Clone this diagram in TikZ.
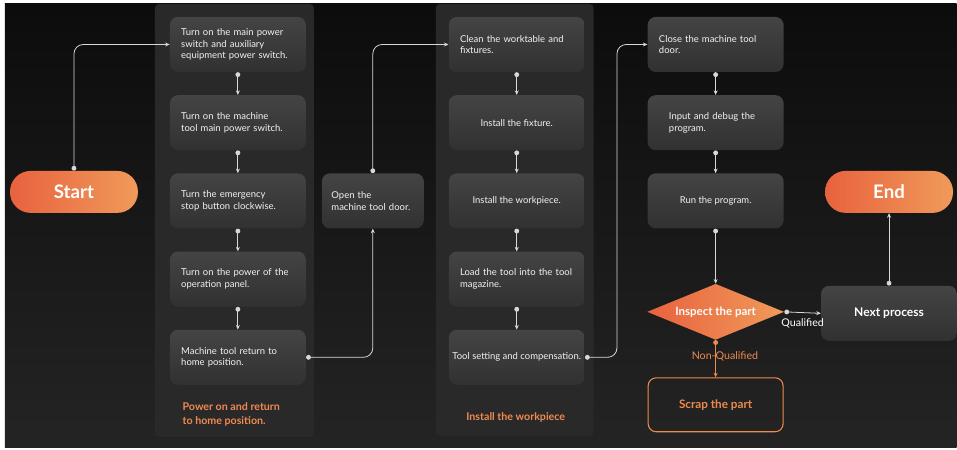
\documentclass[tikz,border=0pt]{standalone}
\usepackage{fontspec}
\setmainfont{Lato}
\usetikzlibrary{shapes.geometric,arrows.meta}

\definecolor{bgtop}{HTML}{0C0C0C}
\definecolor{bgbot}{HTML}{242424}
\definecolor{panelbg}{HTML}{292929}
\definecolor{boxtop}{HTML}{444444}
\definecolor{boxbot}{HTML}{313131}
\definecolor{orangeA}{HTML}{E8623E}
\definecolor{orangeB}{HTML}{F09A5A}
\definecolor{orangetxt}{HTML}{EE8A50}
\definecolor{wire}{HTML}{D8D8D8}

\tikzset{
  stepbox/.style={rectangle, rounded corners=6pt, minimum width=102pt, minimum height=41.25pt,
    top color=boxtop, bottom color=boxbot, text=white!90!gray,
    font=\fontsize{7.1}{8.7}\selectfont},
  lefttext/.style={align=left, text width=85pt, inner xsep=8.5pt},
  midtext/.style={align=center},
  pill/.style={rectangle, rounded corners=15.5pt, minimum width=96pt, minimum height=31.5pt,
    left color=orangeA, right color=orangeB, text=white, font=\fontsize{14}{16}\selectfont\bfseries},
  flow/.style={draw=wire, line width=0.6pt, rounded corners=7pt,
    {Circle[length=3.6pt]}-{Stealth[length=3.4pt,width=3pt]}},
  coltitle/.style={text=orangetxt, font=\fontsize{8}{10.4}\selectfont\bfseries},
}

\begin{document}
\begin{tikzpicture}[x=0.75pt,y=-0.75pt]
  % background and column panels
  \fill[white] (0,0) rectangle (957,450);
  \shade[top color=bgtop,bottom color=bgbot] (5,4) rectangle (957,448);
  \fill[panelbg,rounded corners=3pt] (155,4) rectangle (314,437);
  \fill[panelbg,rounded corners=3pt] (436,4) rectangle (594,436);

  % start / end
  \node[pill] (start) at (74,192) {Start};
  \node[pill] (end) at (889.5,192) {End};

  % power on column
  \node[stepbox,lefttext] (b1) at (238,44.5) {Turn on the main power\\switch and auxiliary\\equipment power switch.};
  \node[stepbox,lefttext] (b2) at (238,122.75) {Turn on the machine\\tool main power switch.};
  \node[stepbox,lefttext] (b3) at (238,201) {Turn the emergency\\stop button clockwise.};
  \node[stepbox,lefttext] (b4) at (238,279.25) {Turn on the power of the\\operation panel.};
  \node[stepbox,lefttext] (b5) at (238,357.5) {Machine tool return to\\home position.};
  \node[coltitle,anchor=west,align=left] (t1) at (178,415) {Power on and return\\to home position.};

  % door
  \node[stepbox,align=left,minimum width=76.5pt,text width=62pt,inner xsep=7.25pt] (open) at (373,201) {Open the\\machine tool door.};

  % install column
  \node[stepbox,lefttext] (c1) at (517,44.5) {Clean the worktable and\\fixtures.};
  \node[stepbox,midtext] (c2) at (517,122.75) {Install the fixture.};
  \node[stepbox,midtext] (c3) at (517,201) {Install the workpiece.};
  \node[stepbox,lefttext] (c4) at (517,279.25) {Load the tool into the tool\\magazine.};
  \node[stepbox,midtext,inner xsep=2pt] (c5) at (517,357.5) {Tool setting and compensation.};
  \node[coltitle] (t2) at (516,418) {Install the workpiece};

  % program column
  \node[stepbox,lefttext] (d1) at (716,44.5) {Close the machine tool\\door.};
  \node[stepbox,align=left,text width=70pt] (d2) at (716,122.75) {Input and debug the\\program.};
  \node[stepbox,midtext] (d3) at (716,201) {Run the program.};

  \node[diamond, aspect=2.45, minimum width=102.75pt, minimum height=42pt, inner sep=0pt,
    left color=orangeA, right color=orangeB, text=white, font=\fontsize{8.6}{10}\selectfont\bfseries] (insp) at (716,312) {Inspect the part};
  \node[stepbox,font=\fontsize{9}{10}\selectfont\bfseries,text=white] (next) at (889.5,313.5) {Next process};
  \node[rectangle, rounded corners=6pt, draw=orangetxt, line width=0.8pt, minimum width=101.25pt, minimum height=40.5pt,
    text=orangetxt, font=\fontsize{8.8}{10}\selectfont\bfseries] (scrap) at (716,405) {Scrap the part};

  % connectors
  \draw[flow] (start.north) |- (b1.west);
  \foreach \a/\b in {b1/b2,b2/b3,b3/b4,b4/b5,c1/c2,c2/c3,c3/c4,c4/c5,d1/d2,d2/d3}
    \draw[flow] (\a.south) -- (\b.north);
  \draw[flow] (b5.east) -| (open.south);
  \draw[flow] (open.north) |- (c1.west);
  \draw[flow] (c5.east) -- ++(32,0) |- (d1.west);
  \draw[flow] (d3.south) -- (insp.north);
  \draw[flow] (insp.east) -- node[below=1pt, text=white, font=\fontsize{8}{9}\selectfont] (qual) {Qualified} (next.west);
  \draw[flow,draw=orangetxt] (insp.south) -- node[pos=0.45, xshift=7pt, text=orangetxt, font=\fontsize{8}{9}\selectfont] (nonq) {Non-Qualified} (scrap.north);
  \draw[flow] (next.north) -- (end.south);
\end{tikzpicture}
\end{document}
